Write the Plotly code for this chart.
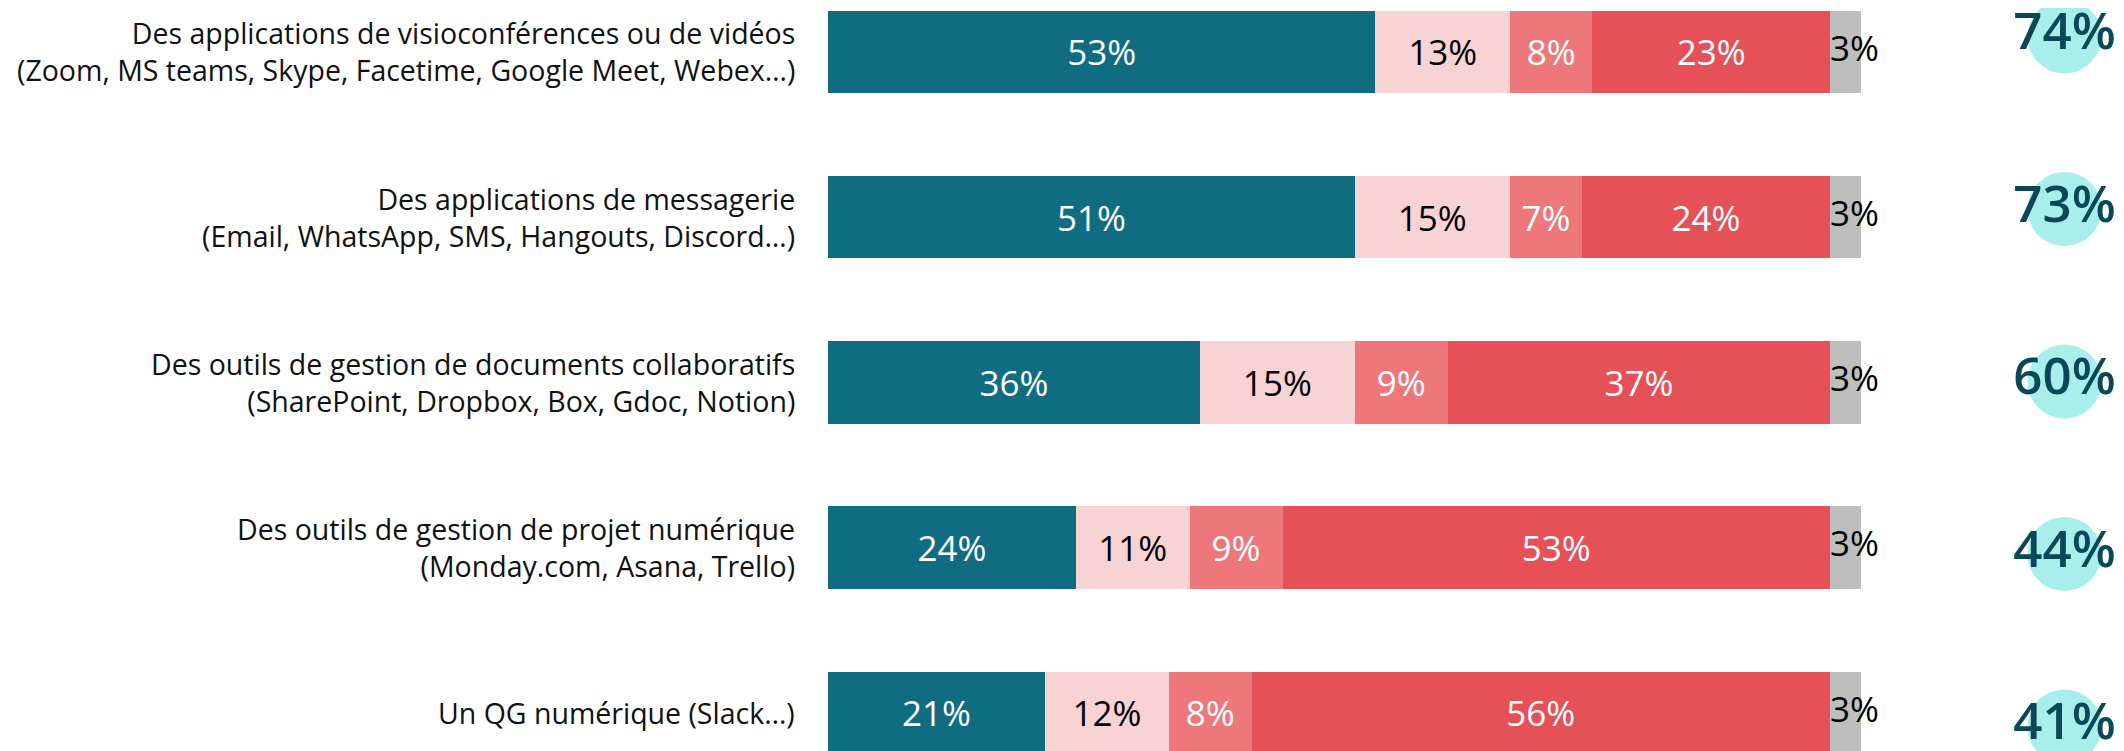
import plotly.graph_objects as go

# categories (two lines each)
labels_l1 = [
    "Des applications de visioconférences ou de vidéos",
    "Des applications de messagerie",
    "Des outils de gestion de documents collaboratifs",
    "Des outils de gestion de projet numérique",
    "Un QG numérique (Slack…)",
]
labels_l2 = [
    "(Zoom, MS teams, Skype, Facetime, Google Meet, Webex…)",
    "(Email, WhatsApp, SMS, Hangouts, Discord…)",
    "(SharePoint, Dropbox, Box, Gdoc, Notion)",
    "(Monday.com, Asana, Trello)",
    "",
]

# series values (%)
seg1 = [53, 51, 36, 24, 21]
seg2 = [13, 15, 15, 11, 12]
seg3 = [8, 7, 9, 9, 8]
seg4 = [23, 24, 37, 53, 56]
seg5 = [3, 3, 3, 3, 3]

# totals shown in the circles
totals = [74, 73, 60, 44, 41]

series = [seg1, seg2, seg3, seg4, seg5]
colors = ["#0f6c81", "#f8d3d4", "#ee777c", "#e65057", "#bebebe"]
text_colors = ["white", "black", "white", "white", "black"]

rows = list(range(len(labels_l1)))

fig = go.Figure()

for i, vals in enumerate(series):
    last = i == len(series) - 1
    fig.add_trace(go.Bar(
        y=rows, x=vals, orientation="h",
        marker=dict(color=colors[i], line=dict(width=0)),
        width=0.5,
        text=None if last else [f"{v}%" for v in vals],
        textposition="inside", insidetextanchor="middle",
        textfont=dict(family="Open Sans", size=35, color=text_colors[i]),
        constraintext="none",
        showlegend=False, hoverinfo="skip",
    ))

# labels for the small grey segment, starting at its left edge
grey_start = [a + b + c + d for a, b, c, d in zip(seg1, seg2, seg3, seg4)]
fig.add_trace(go.Scatter(
    x=grey_start, y=rows, mode="text",
    text=[f"{v}%" for v in seg5], textposition="middle right",
    textfont=dict(family="Open Sans", size=35, color="black"),
    showlegend=False, hoverinfo="skip",
))

# circles with totals
circle_x = 119.7
fig.add_trace(go.Scatter(
    x=[circle_x] * len(totals), y=rows, yaxis="y2",
    mode="markers+text",
    marker=dict(size=74, color="#a8eeec", line=dict(width=0)),
    text=[f"{t}%" for t in totals], textposition="middle center",
    textfont=dict(family="Open Sans", size=51, color="#0b4756", weight=600),
    showlegend=False, hoverinfo="skip",
))

for r in rows:
    txt = labels_l1[r] if not labels_l2[r] else labels_l1[r] + "<br>" + labels_l2[r]
    fig.add_annotation(
        x=0, y=r, xref="x", yref="y", text=txt,
        xanchor="right", yanchor="middle", align="right", xshift=-31,
        showarrow=False,
        font=dict(family="Open Sans", size=28.5, color="#111111"),
    )

# page body has an 8px margin, so the figure is 8px smaller each way
fig.update_layout(
    barmode="stack",
    width=2116, height=743,
    margin=dict(l=0, r=0, t=0, b=0),
    paper_bgcolor="white", plot_bgcolor="white",
    xaxis=dict(range=[-79.38, 125.46], visible=False, fixedrange=True),
    yaxis=dict(range=[4.231, -0.266], visible=False, fixedrange=True),
    yaxis2=dict(range=[4.142, -0.165], overlaying="y", visible=False, fixedrange=True),
)

fig.write_html("out.html")
